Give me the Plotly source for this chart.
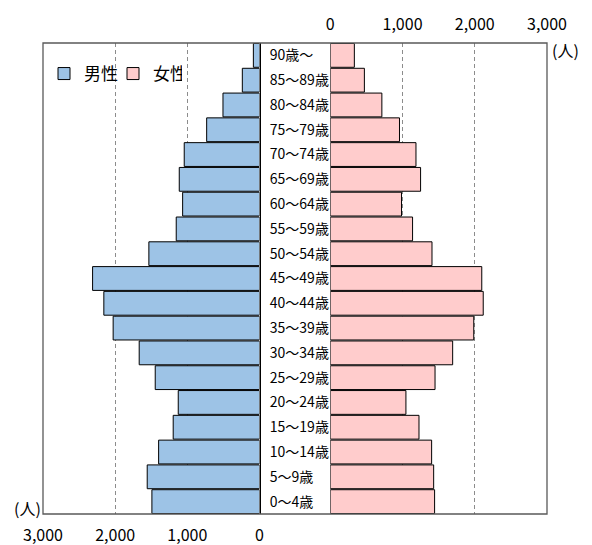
import plotly.graph_objects as go

age_groups = ["0～4歳", "5～9歳", "10～14歳", "15～19歳", "20～24歳", "25～29歳",
              "30～34歳", "35～39歳", "40～44歳", "45～49歳", "50～54歳", "55～59歳",
              "60～64歳", "65～69歳", "70～74歳", "75～79歳", "80～84歳", "85～89歳", "90歳～"]
male = [1491, 1556, 1398, 1196, 1126, 1445, 1667, 2028, 2157, 2313, 1533, 1154,
        1065, 1112, 1043, 732, 506, 238, 85]
female = [1444, 1431, 1403, 1228, 1047, 1450, 1694, 1986, 2117, 2097, 1408, 1139,
          986, 1250, 1186, 958, 714, 472, 333]
tick_vals = [0, 1000, 2000, 3000]
tick_text = ["0", "1,000", "2,000", "3,000"]
unit_label = "(人)"
male_name = "男性"
female_name = "女性"

W, H = 592, 545
FONT = "Noto Sans CJK JP, Noto Sans, sans-serif"
L_X0, L_X1 = 43 / W, 259.5 / W
R_X0, R_X1 = 330.3 / W, 547 / W
Y0, Y1 = 1 - 514 / H, 1 - 43 / H

fig = go.Figure()
fig.add_trace(go.Bar(
    y=age_groups, x=male, orientation="h", name=male_name,
    marker=dict(color="#9DC3E6", line=dict(color="#000000", width=1)),
    xaxis="x", yaxis="y",
))
fig.add_trace(go.Bar(
    y=age_groups, x=female, orientation="h", name=female_name,
    marker=dict(color="#FFCCCC", line=dict(color="#000000", width=1)),
    xaxis="x2", yaxis="y",
))

grid = dict(showgrid=True, gridcolor="#8c8c8c", griddash="4px,3px", gridwidth=1,
            zeroline=False, showline=False, automargin=False,
            tickvals=tick_vals, ticktext=tick_text,
            ticks="outside", tickcolor="rgba(0,0,0,0)",
            tickfont=dict(family=FONT, size=16, color="#000000"),
            fixedrange=True)

fig.update_layout(
    width=W, height=H,
    margin=dict(l=0, r=0, t=0, b=0, autoexpand=False),
    paper_bgcolor="white", plot_bgcolor="white",
    bargap=0.04,
    font=dict(family=FONT, color="#000000"),
    xaxis=dict(domain=[L_X0, L_X1], range=[3000, 0], side="bottom", anchor="y",
               ticklen=7, **grid),
    xaxis2=dict(domain=[R_X0, R_X1], range=[0, 3000], side="top", anchor="y",
                ticklen=6, **grid),
    yaxis=dict(domain=[Y0, Y1], anchor="x", side="right", type="category",
               categoryorder="array", categoryarray=age_groups,
               showgrid=False, zeroline=False, automargin=False,
               showline=True, linecolor="#000000", linewidth=1.5,
               ticks="outside", ticklen=6, tickcolor="rgba(0,0,0,0)",
               tickfont=dict(family=FONT, size=14, color="#000000"),
               fixedrange=True),
    legend=dict(orientation="h", x=44 / W, y=1 - 56 / H, xanchor="left", yanchor="top",
                font=dict(family=FONT, size=17, color="#000000"),
                bgcolor="rgba(0,0,0,0)", itemwidth=30, entrywidth=24,
                traceorder="normal"),
    shapes=[dict(type="rect", xref="paper", yref="paper",
                 x0=L_X0, x1=R_X1, y0=Y0, y1=Y1,
                 line=dict(color="#595959", width=1.3), layer="above")],
    annotations=[
        dict(text=unit_label, xref="paper", yref="paper", x=27 / W, y=1 - 508 / H,
             xanchor="center", yanchor="middle", showarrow=False,
             font=dict(family=FONT, size=16, color="#000000")),
        dict(text=unit_label, xref="paper", yref="paper", x=565 / W, y=1 - 50 / H,
             xanchor="center", yanchor="middle", showarrow=False,
             font=dict(family=FONT, size=16, color="#000000")),
    ],
)

fig.write_html("out.html",
               config={"displayModeBar": False, "staticPlot": True},
               post_script="document.body.style.margin='0';document.body.style.overflow='hidden';")
